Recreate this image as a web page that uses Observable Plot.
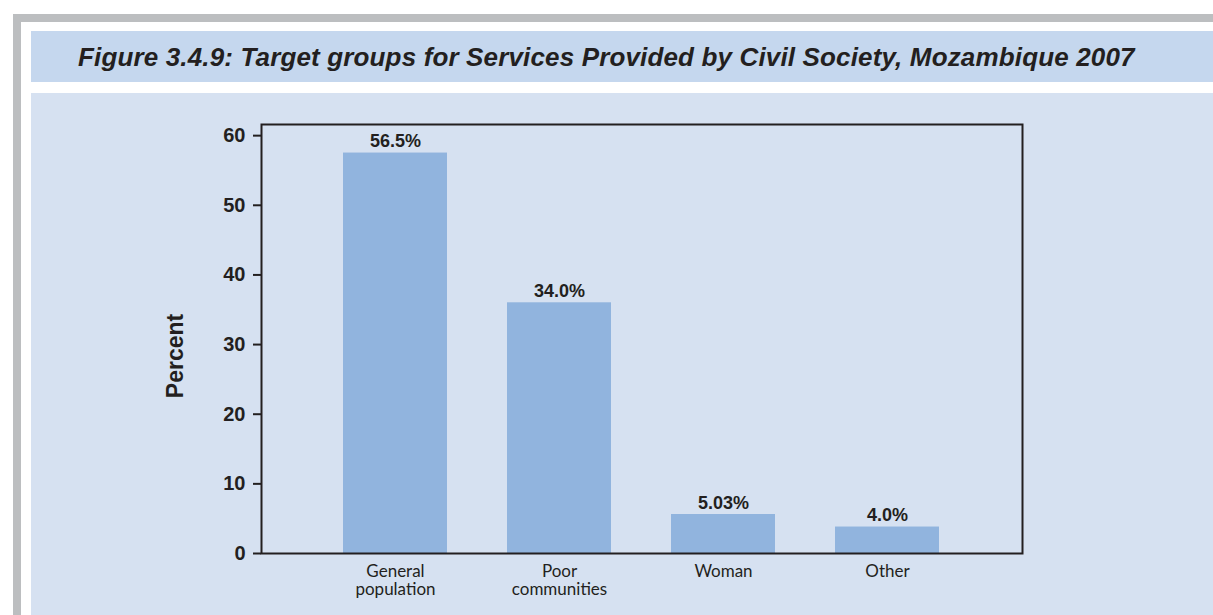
<!DOCTYPE html>
<html>
<head>
<meta charset="utf-8">
<script src="https://cdn.jsdelivr.net/npm/d3@7"></script>
<script src="https://cdn.jsdelivr.net/npm/@observablehq/plot@0.6"></script>
<style>
  html, body { margin: 0; padding: 0; background: #ffffff; }
  body { width: 1213px; height: 615px; position: relative; overflow: hidden; }
  #frame { position: absolute; left: 13px; top: 14px; width: 1200px; height: 601px;
           border-top: 8px solid #bcbec0; border-left: 8px solid #bcbec0; box-sizing: border-box; }
  #titleband { position: absolute; left: 31px; top: 31px; width: 1182px; height: 51px; background: #c5d7ee; }
  #titleband h1 { position: absolute; left: 47px; top: 1px; margin: 0; line-height: 51px;
                  font-family: "Liberation Sans", Arial, sans-serif; font-weight: bold; font-style: italic;
                  font-size: 26px; letter-spacing: 0.15px; color: #231f20; white-space: nowrap; }
  #panel { position: absolute; left: 31px; top: 93px; width: 1182px; height: 522px; background: #d6e1f1; }
  #panel svg { display: block; }
</style>
</head>
<body>
<div id="frame"></div>
<div id="titleband"><h1>Figure 3.4.9: Target groups for Services Provided by Civil Society, Mozambique 2007</h1></div>
<div id="panel"></div>
<script>
const categories = ["General\npopulation", "Poor\ncommunities", "Woman", "Other"];
const barHeights = [57.5, 36.0, 5.6, 3.8];
const valueLabels = ["56.5%", "34.0%", "5.03%", "4.0%"];
const yTicks = [0, 10, 20, 30, 40, 50, 60];
const yTitle = "Percent";

const data = categories.map((c, i) => ({category: c, value: barHeights[i], label: valueLabels[i]}));

const chart = Plot.plot({
  width: 1182,
  height: 522,
  marginLeft: 230,
  marginRight: 191,
  marginTop: 31,
  marginBottom: 62,
  style: {background: "transparent", color: "#231f20", overflow: "visible"},
  x: {domain: categories, paddingInner: 0.365, paddingOuter: 0.5, align: 0.5},
  y: {domain: [0, 61.6]},
  marks: [
    Plot.barY(data, {x: "category", y: "value", fill: "#91b4de"}),
    Plot.frame({stroke: "#231f20", strokeWidth: 2}),
    Plot.axisY({ticks: yTicks, tickSize: 8, tickPadding: 8, label: null, fontSize: 20, fontWeight: "bold",
                fontFamily: "Liberation Sans, Arial, sans-serif", strokeWidth: 2}),
    Plot.axisX({tickSize: 0, tickPadding: 10, label: null, fontSize: 17, lineHeight: 1.1,
                fontFamily: "Lato, sans-serif"}),
    Plot.text(data, {x: "category", y: "value", text: "label", lineAnchor: "bottom", dy: -6,
                     fontSize: 18, fontWeight: "bold", fontFamily: "Liberation Sans, Arial, sans-serif"}),
    Plot.text([yTitle], {text: d => d, frameAnchor: "left", textAnchor: "middle", dx: -86, dy: 17, rotate: -90,
                         fontSize: 23, fontWeight: "bold", fontFamily: "Liberation Sans, Arial, sans-serif"})
  ]
});
document.getElementById("panel").appendChild(chart);
</script>
</body>
</html>
